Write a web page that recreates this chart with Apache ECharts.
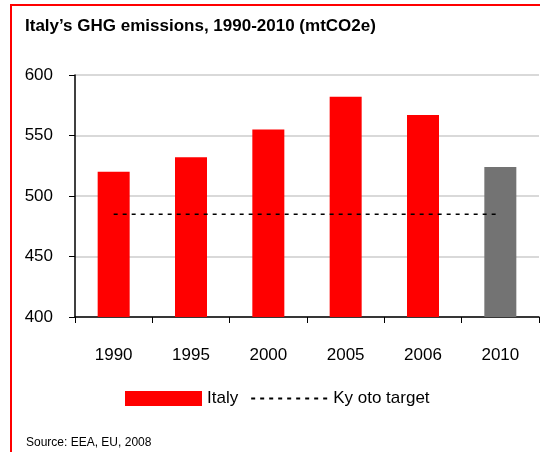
<!DOCTYPE html>
<html>
<head>
<meta charset="utf-8">
<script src="https://cdn.jsdelivr.net/npm/echarts@6/dist/echarts.min.js"></script>
<style>
  html, body { margin: 0; padding: 0; background: #fff; }
  #chart { width: 540px; height: 452px; }
</style>
</head>
<body>
<div id="chart"></div>
<script>
// data
var years = ['1990', '1995', '2000', '2005', '2006', '2010'];
var italy = [520, 532, 555, 582, 567, 524];
var kyoto = [485, 485, 485, 485, 485, 485];
var yTicks = [400, 450, 500, 550, 600];

var font = '"Liberation Sans", Arial, sans-serif';

var chart = echarts.init(document.getElementById('chart'));
chart.setOption({
    animation: false,
    backgroundColor: '#fff',
    title: {
        text: 'Italy\u2019s GHG emissions, 1990-2010 (mtCO2e)',
        left: 20,
        top: 13,
        textStyle: { fontFamily: font, fontWeight: 'bold', fontSize: 17, color: '#000' }
    },
    graphic: [
        { type: 'line', shape: { x1: 10, y1: 5, x2: 540, y2: 5 }, style: { stroke: '#ff0000', lineWidth: 2 } },
        { type: 'line', shape: { x1: 11, y1: 5, x2: 11, y2: 452 }, style: { stroke: '#ff0000', lineWidth: 2 } },
        {
            type: 'text', left: 26, top: 437,
            style: { text: 'Source: EEA, EU, 2008', fontFamily: font, fontSize: 12, fill: '#000' }
        }
    ],
    legend: {
        left: 120,
        top: 385,
        itemWidth: 77,
        itemHeight: 15,
        itemGap: 12,
        textStyle: { fontFamily: font, fontSize: 17, color: '#000' },
        data: [
            { name: 'Italy', icon: 'rect' },
            { name: 'Ky oto target', itemStyle: { opacity: 0 } }
        ]
    },
    grid: { left: 75, right: 1, top: 75, bottom: 135 },
    xAxis: {
        type: 'category',
        data: years,
        boundaryGap: true,
        axisLine: { lineStyle: { color: '#000', width: 1.5 } },
        axisTick: { show: true, length: 6, lineStyle: { color: '#000' } },
        axisLabel: { fontFamily: font, fontSize: 17, color: '#000', margin: 30 }
    },
    yAxis: {
        type: 'value',
        min: yTicks[0],
        max: yTicks[yTicks.length - 1],
        interval: 50,
        axisLine: { show: true, lineStyle: { color: '#000', width: 1.5 } },
        axisTick: { show: true, length: 6, lineStyle: { color: '#000' } },
        axisLabel: { fontFamily: font, fontSize: 17, color: '#000', margin: 22 },
        splitLine: { lineStyle: { color: '#cccccc', width: 1.5 } }
    },
    series: [
        {
            name: 'Italy',
            type: 'bar',
            barWidth: 32,
            data: italy.map(function (v, i) {
                return i === italy.length - 1
                    ? { value: v, itemStyle: { color: '#737373' } }
                    : v;
            }),
            itemStyle: { color: '#ff0000' }
        },
        {
            name: 'Ky oto target',
            type: 'line',
            data: kyoto,
            symbol: 'none',
            z: 5,
            lineStyle: { color: '#000', width: 1.5, type: [4, 5] },
            itemStyle: { color: '#000' }
        }
    ]
});
</script>
</body>
</html>
